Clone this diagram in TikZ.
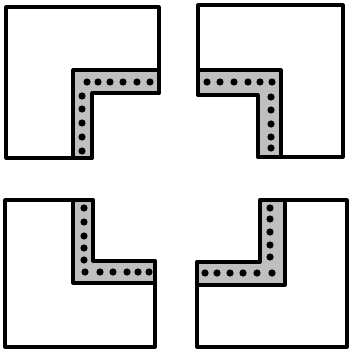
\documentclass[tikz,border=0pt]{standalone}
\usepackage{xcolor}
\usepackage{tikz}

\begin{document}
\begin{tikzpicture}[
    x=0.05cm, y=-0.05cm,
    room/.style={draw, fill=white, line width=4.3pt, line join=round},
    band/.style={draw, fill=gray!50, line width=4.3pt, line join=round},
    post/.style={fill=black}
]
    \useasboundingbox (0,0) rectangle (349,350);

    % Top left
    \draw[room] (6,7) -- (159,7) -- (159,93) -- (92,93) -- (92,158) -- (6,158) -- cycle;
    \draw[band] (73,70) -- (159,70) -- (159,93) -- (92,93) -- (92,158) -- (73,158) -- cycle;
    \foreach \x in {87,98,110,123,137,150} \fill[post] (\x,82) circle (3.6);
    \foreach \y in {96,109,123,137,151} \fill[post] (82,\y) circle (3.6);

    % Top right
    \draw[room] (198,5) -- (343,5) -- (343,157) -- (258,157) -- (258,95) -- (198,95) -- cycle;
    \draw[band] (198,70) -- (281,70) -- (281,157) -- (258,157) -- (258,95) -- (198,95) -- cycle;
    \foreach \x in {207,220,234,248,260,272} \fill[post] (\x,82) circle (3.6);
    \foreach \y in {97,110,124,137,148} \fill[post] (271,\y) circle (3.6);

    % Bottom left
    \draw[room] (5,200) -- (93,200) -- (93,261) -- (155,261) -- (155,347) -- (5,347) -- cycle;
    \draw[band] (73,200) -- (93,200) -- (93,261) -- (155,261) -- (155,283) -- (73,283) -- cycle;
    \foreach \y in {208,222,236,248,260} \fill[post] (84,\y) circle (3.6);
    \foreach \x in {85,100,113,127,138,149} \fill[post] (\x,272) circle (3.6);

    % Bottom right
    \draw[room] (197,262) -- (260,262) -- (260,200) -- (347,200) -- (347,347) -- (197,347) -- cycle;
    \draw[band] (260,200) -- (285,200) -- (285,285) -- (197,285) -- (197,262) -- (260,262) -- cycle;
    \foreach \y in {208,219,232,245,257} \fill[post] (270,\y) circle (3.6);
    \foreach \x in {205,217,230,243,257,272} \fill[post] (\x,273) circle (3.6);
\end{tikzpicture}
\end{document}
